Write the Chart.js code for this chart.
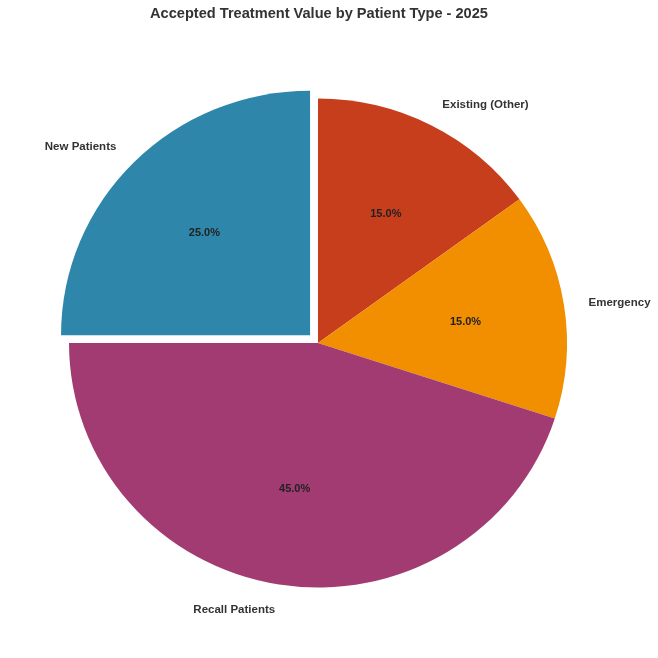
<!DOCTYPE html>
<html>
<head>
<meta charset="utf-8">
<script src="https://cdn.jsdelivr.net/npm/chart.js@4"></script>
<style>
html,body{margin:0;padding:0;background:#fff}
#wrap{width:658px;height:658px}
</style>
</head>
<body>
<div id="wrap"><canvas id="c" width="658" height="658"></canvas></div>
<script>
// clockwise from 12 o'clock
const labels=["Existing (Other)","Emergency","Recall Patients","New Patients"]
const values=[15,15,45,25]
const colors=["#C73E1D","#F18F01","#A23B72","#2E86AB"]
const explode=[0,0,0,45]
const title="Accepted Treatment Value by Patient Type - 2025"

const FONT='"Liberation Sans", Arial, sans-serif'
const SY=0.982 // the original pie is a touch flatter than round
const DY=1.5   // nudge text down a little

const squash={
  id:"squash",
  beforeDatasetsDraw(chart){
    const a=chart.chartArea,cy=(a.top+a.bottom)/2
    chart.ctx.save()
    chart.ctx.translate(0,cy)
    chart.ctx.scale(1,SY)
    chart.ctx.translate(0,-cy)
  },
  afterDatasetsDraw(chart){chart.ctx.restore()}
}

const textPlugin={
  id:"pieText",
  afterDraw(chart){
    const ctx=chart.ctx
    const meta=chart.getDatasetMeta(0)
    const total=values.reduce((a,b)=>a+b,0)
    ctx.save()
    ctx.fillStyle="#333"
    ctx.font="bold 14.6px "+FONT
    ctx.textAlign="center"
    ctx.textBaseline="middle"
    ctx.fillText(title,319,14)
    meta.data.forEach((arc,i)=>{
      const {x,y,startAngle,endAngle,outerRadius}=arc.getProps(["x","y","startAngle","endAngle","outerRadius"],true)
      const mid=(startAngle+endAngle)/2
      const off=explode[i]/4
      const cx=x+Math.cos(mid)*off,cy=y+Math.sin(mid)*off*SY+DY
      const lx=cx+Math.cos(mid)*outerRadius*1.1
      const ly=cy+Math.sin(mid)*outerRadius*1.1*SY
      ctx.font="bold 11.5px "+FONT
      ctx.fillStyle="#333"
      ctx.textAlign=Math.cos(mid)>0?"left":"right"
      ctx.textBaseline="middle"
      ctx.fillText(labels[i],lx,ly)
      const px=cx+Math.cos(mid)*outerRadius*0.6
      const py=cy+Math.sin(mid)*outerRadius*0.6*SY
      ctx.font="bold 11px "+FONT
      ctx.fillStyle="#222"
      ctx.textAlign="center"
      ctx.fillText((values[i]/total*100).toFixed(1)+"%",px,py)
    })
    ctx.restore()
  }
}

new Chart(document.getElementById("c"),{
  type:"pie",
  data:{labels,datasets:[{data:values,backgroundColor:colors,borderWidth:0,offset:explode,hoverOffset:0,radius:249}]},
  options:{
    responsive:false,
    animation:false,
    events:[],
    layout:{padding:{left:50,right:72,top:60,bottom:32}},
    plugins:{legend:{display:false},title:{display:false},tooltip:{enabled:false}}
  },
  plugins:[squash,textPlugin]
})
</script>
</body>
</html>
